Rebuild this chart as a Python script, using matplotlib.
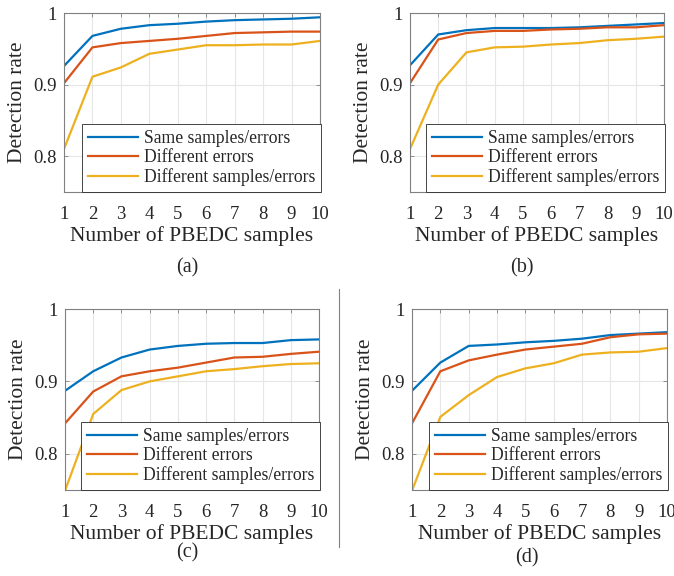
import matplotlib
matplotlib.use("Agg")
import matplotlib.pyplot as plt
from matplotlib.lines import Line2D
import numpy as np

plt.rcParams["font.family"] = ["Liberation Serif", "DejaVu Serif"]

x_samples = np.arange(1, 11)
series_names = ["Same samples/errors", "Different errors", "Different samples/errors"]
panel_tags = ["(a)", "(b)", "(c)", "(d)"]

# detection rate per panel: same samples/errors, different errors, different samples/errors
same_a = [0.926, 0.968, 0.978, 0.983, 0.985, 0.988, 0.990, 0.991, 0.992, 0.994]
differr_a = [0.902, 0.952, 0.958, 0.961, 0.964, 0.968, 0.972, 0.973, 0.974, 0.974]
diffall_a = [0.810, 0.911, 0.924, 0.943, 0.949, 0.955, 0.955, 0.956, 0.956, 0.961]

same_b = [0.927, 0.970, 0.976, 0.979, 0.979, 0.979, 0.980, 0.982, 0.984, 0.986]
differr_b = [0.902, 0.963, 0.972, 0.975, 0.975, 0.977, 0.978, 0.980, 0.980, 0.983]
diffall_b = [0.810, 0.900, 0.945, 0.952, 0.953, 0.956, 0.958, 0.962, 0.964, 0.967]

same_c = [0.887, 0.914, 0.933, 0.944, 0.949, 0.952, 0.953, 0.953, 0.957, 0.958]
differr_c = [0.842, 0.886, 0.907, 0.914, 0.919, 0.926, 0.933, 0.934, 0.938, 0.941]
diffall_c = [0.749, 0.855, 0.888, 0.900, 0.907, 0.914, 0.917, 0.921, 0.924, 0.925]

same_d = [0.887, 0.926, 0.949, 0.951, 0.954, 0.956, 0.959, 0.964, 0.966, 0.968]
differr_d = [0.842, 0.914, 0.929, 0.937, 0.944, 0.948, 0.952, 0.961, 0.965, 0.966]
diffall_d = [0.749, 0.851, 0.881, 0.906, 0.918, 0.925, 0.937, 0.940, 0.941, 0.946]

panels = [
    [same_a, differr_a, diffall_a],
    [same_b, differr_b, diffall_b],
    [same_c, differr_c, diffall_c],
    [same_d, differr_d, diffall_d],
]

W, H = 674, 576
colors = ["#0072BD", "#D95319", "#EDB120"]

# axes boxes in pixels: left, right, top, bottom
boxes = [(64, 320, 13, 192), (410, 664, 13, 192), (65, 319, 309, 490), (412, 667, 309, 490)]
tag_pos = [(187, 268), (522, 268), (187, 553), (527, 558)]

fig = plt.figure(figsize=(W / 100, H / 100), dpi=100)

for i, data in enumerate(panels):
    l, r, t, b = boxes[i]
    ax = fig.add_axes([l / W, 1 - b / H, (r - l) / W, (b - t) / H])
    for j, vals in enumerate(data):
        ax.plot(x_samples, vals, color=colors[j], lw=1.6, label=series_names[j],
                solid_joinstyle="miter")
    ax.set_xlim(1, 10)
    ax.set_ylim(0.75, 1.0)
    ax.set_xticks(x_samples)
    ax.set_yticks([0.8, 0.9, 1.0])
    ax.set_yticklabels(["0.8", "0.9", "1"])
    ax.grid(True, color="#e6e6e6", lw=0.8)
    ax.set_axisbelow(True)
    ax.tick_params(direction="in", top=True, right=True, length=3, width=0.6,
                   colors="#808080", labelcolor="#262626", labelsize=13.5)
    ax.tick_params(axis="x", pad=10)
    ax.tick_params(axis="y", pad=5)
    for s in ax.spines.values():
        s.set_color("#808080")
        s.set_linewidth(0.8)
    ax.set_xlabel("Number of PBEDC samples", fontsize=15.5, color="#262626")
    ax.set_ylabel("Detection rate", fontsize=15.5, color="#262626")
    ax.xaxis.set_label_coords(0.5, -0.19)
    ax.yaxis.set_label_coords(-0.145, 0.5)
    leg = ax.legend(loc="lower right", bbox_to_anchor=(1.005, 0), borderaxespad=0,
                    fontsize=12.7, handlelength=2.85, handletextpad=0.3,
                    labelspacing=0.12, borderpad=0.35, fancybox=False, framealpha=1)
    leg.get_frame().set_edgecolor("#262626")
    leg.get_frame().set_linewidth(0.6)
    for txt in leg.get_texts():
        txt.set_color("#262626")
    fig.text(tag_pos[i][0] / W, 1 - tag_pos[i][1] / H, panel_tags[i],
             ha="center", va="center", fontsize=14.5, color="#262626")

fig.add_artist(Line2D([339 / W, 339 / W], [1 - 289 / H, 1 - 547 / H],
                      color="#808080", lw=0.8))

plt.savefig("out.png", dpi=100)
